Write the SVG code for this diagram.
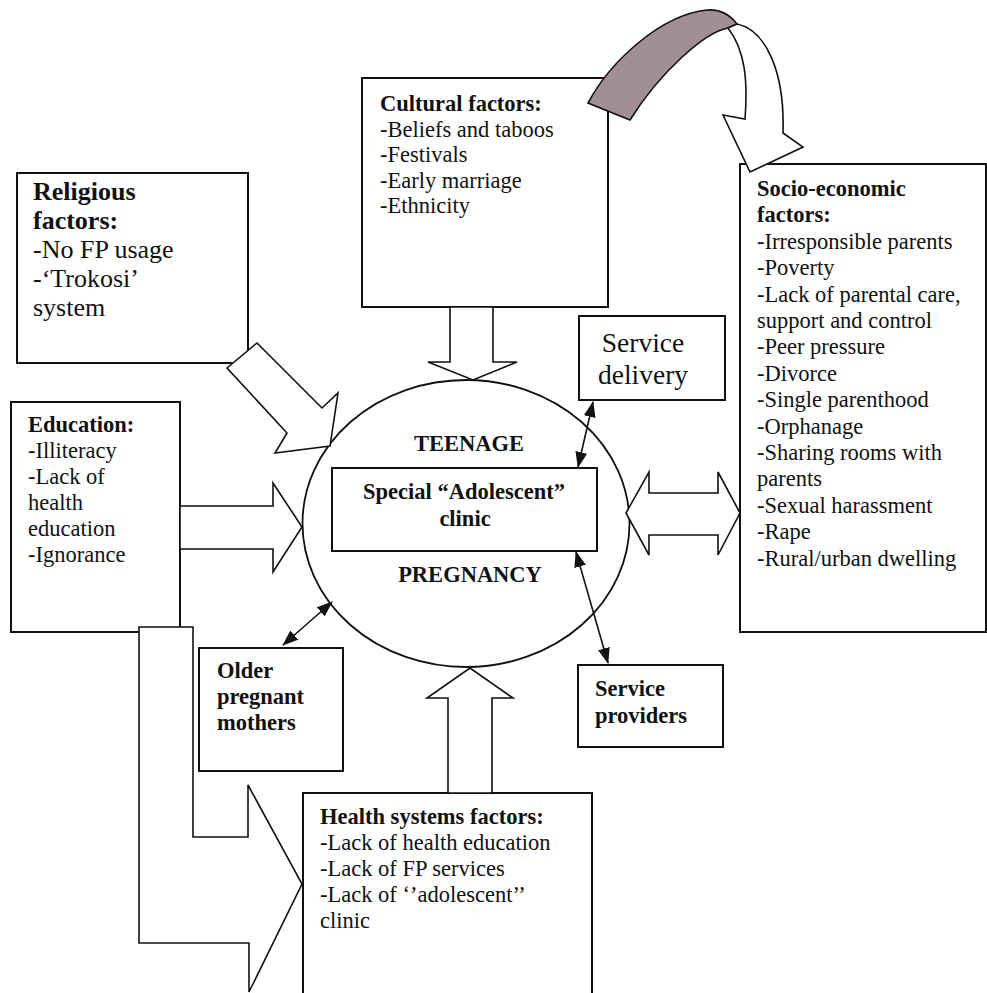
<svg xmlns="http://www.w3.org/2000/svg" width="987" height="993" viewBox="0 0 987 993">
  <style>
    .box { fill: #ffffff; stroke: #111111; stroke-width: 2; }
    .big { fill: #ffffff; stroke: #111111; stroke-width: 1.6; stroke-linejoin: miter; }
    .thin { fill: none; stroke: #111111; stroke-width: 1.6; marker-start: url(#head); marker-end: url(#head); }
    text { font-family: "Liberation Serif", "Times New Roman", serif; fill: #111111; font-size: 22.5px; }
    .b { font-weight: bold; }
    .lg { font-size: 27.5px; }
    .rel { font-size: 26px; }
    .c { text-anchor: middle; }
  </style>
  <defs>
    <marker id="head" viewBox="0 0 16 12" refX="15" refY="6" markerWidth="16" markerHeight="12" markerUnits="userSpaceOnUse" orient="auto-start-reverse">
      <path d="M0,0 L16,6 L0,12 Z" fill="#111111"/>
    </marker>
  </defs>
  <rect width="987" height="993" fill="#ffffff"/>

  <g id="teenage-pregnancy">
    <ellipse cx="466" cy="523.5" rx="163.5" ry="143.5" fill="none" stroke="#111111" stroke-width="1.8"/>
    <text class="b c" x="469" y="451">TEENAGE</text>
    <text class="b c" x="470" y="582">PREGNANCY</text>
  </g>

  <g id="adolescent-clinic">
    <rect class="box" x="332" y="468" width="265" height="83"/>
    <text class="b c" x="464" y="499">Special “Adolescent”</text>
    <text class="b c" x="465" y="526">clinic</text>
  </g>

  <g id="cultural-factors">
    <rect class="box" x="362" y="78" width="246" height="229"/>
    <text class="b" x="380" y="111">Cultural factors:</text>
    <text x="380" y="136.5">-Beliefs and taboos</text>
    <text x="380" y="162">-Festivals</text>
    <text x="380" y="187.5">-Early marriage</text>
    <text x="380" y="213">-Ethnicity</text>
  </g>

  <g id="religious-factors">
    <rect class="box" x="17" y="173" width="231" height="190"/>
    <text class="b rel" x="33" y="200">Religious</text>
    <text class="b rel" x="33" y="229">factors:</text>
    <text class="rel" x="33" y="258">-No FP usage</text>
    <text class="rel" x="33" y="287">-‘Trokosi’</text>
    <text class="rel" x="33" y="316">system</text>
  </g>

  <g id="education">
    <rect class="box" x="11" y="402" width="169" height="230"/>
    <text class="b" x="28" y="432">Education:</text>
    <text x="28" y="458">-Illiteracy</text>
    <text x="28" y="484">-Lack of</text>
    <text x="28" y="510">health</text>
    <text x="28" y="536">education</text>
    <text x="28" y="562">-Ignorance</text>
  </g>

  <g id="socio-economic-factors">
    <rect class="box" x="740" y="164" width="246" height="468"/>
    <text class="b" x="757" y="196">Socio-economic</text>
    <text class="b" x="757" y="222.4">factors:</text>
    <text x="757" y="248.8">-Irresponsible parents</text>
    <text x="757" y="275.2">-Poverty</text>
    <text x="757" y="301.6">-Lack of parental care,</text>
    <text x="757" y="328">support and control</text>
    <text x="757" y="354.4">-Peer pressure</text>
    <text x="757" y="380.8">-Divorce</text>
    <text x="757" y="407.2">-Single parenthood</text>
    <text x="757" y="433.6">-Orphanage</text>
    <text x="757" y="460">-Sharing rooms with</text>
    <text x="757" y="486.4">parents</text>
    <text x="757" y="512.8">-Sexual harassment</text>
    <text x="757" y="539.2">-Rape</text>
    <text x="757" y="565.6">-Rural/urban dwelling</text>
  </g>

  <g id="service-delivery">
    <rect class="box" x="579" y="316" width="146" height="84"/>
    <text class="lg c" x="643" y="352">Service</text>
    <text class="lg c" x="643" y="384">delivery</text>
  </g>

  <g id="older-pregnant-mothers">
    <rect class="box" x="199" y="648" width="144" height="123"/>
    <text class="b" x="217" y="678">Older</text>
    <text class="b" x="217" y="704">pregnant</text>
    <text class="b" x="217" y="730">mothers</text>
  </g>

  <g id="service-providers">
    <rect class="box" x="578" y="665" width="145" height="82"/>
    <text class="b" x="595" y="696">Service</text>
    <text class="b" x="595" y="723">providers</text>
  </g>

  <g id="health-systems-factors">
    <rect class="box" x="303" y="793" width="289" height="215"/>
    <text class="b" x="320" y="824">Health systems factors:</text>
    <text x="320" y="850">-Lack of health education</text>
    <text x="320" y="876">-Lack of FP services</text>
    <text x="320" y="902">-Lack of ‘’adolescent’’</text>
    <text x="320" y="928">clinic</text>
  </g>

  <g id="connectors">
    <!-- cultural down arrow -->
    <polygon class="big" points="450,307 493,307 493,362 517,362 473,380 428,362 450,362"/>
    <!-- religious diagonal arrow -->
    <polygon class="big" points="227,368 257,343 322,408 338,393 330,446 275,453 287,433"/>
    <!-- education right arrow -->
    <polygon class="big" points="180,506 273,506 273,483 302,527 273,572 273,549 180,549"/>
    <!-- socio-economic double arrow -->
    <polygon class="big" points="626,513 649,472 649,493 718,493 718,472 740,513 718,555 718,535 649,535 649,555"/>
    <!-- health up arrow -->
    <polygon class="big" points="448,793 448,698 427,698 470,668 513,698 492,698 492,793"/>
    <!-- L-shaped arrow from education to health systems -->
    <polygon class="big" points="139,627 193,627 193,837 248,837 248,785 302,884 249,992 249,943 139,943"/>
    <!-- curved arrow cultural to socio-economic -->
    <path d="M588,103 C610,62 660,15 707,10 C720,9 730,15 737,24 L728,28 C705,32 660,72 630,120 Z" fill="#a08f97" stroke="#111111" stroke-width="1.6"/>
    <path class="big" d="M737,24 C765,30 785,70 783,133 L803,147 L750,172 L723,115 L745,119 C748,80 745,50 728,28 Z"/>
    <!-- thin double-headed connectors -->
    <line class="thin" x1="593" y1="402" x2="578" y2="467"/>
    <line class="thin" x1="283" y1="645" x2="332" y2="602"/>
    <line class="thin" x1="576" y1="552" x2="608" y2="663"/>
  </g>
</svg>
